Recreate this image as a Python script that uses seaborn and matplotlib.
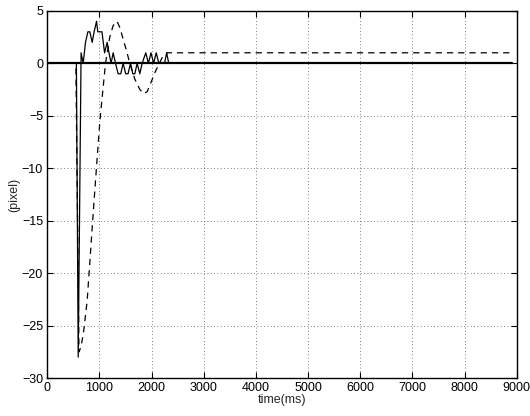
import numpy as np
import pandas as pd
import seaborn as sns
import matplotlib
matplotlib.use("Agg")
import matplotlib.pyplot as plt

# measured error (solid)
solid_t = [0, 560, 595, 650, 690, 735, 780, 818, 863, 900, 946, 970, 1050, 1100, 1150,
           1185, 1225, 1265, 1310, 1360, 1410, 1456, 1505, 1550, 1597, 1640, 1680, 1724,
           1776, 1820, 1890, 1940, 1990, 2040, 2090, 2140, 2250, 2290, 2330, 8900]
solid_y = [0, 0, -28, 1, 0, 2, 3, 3, 2, 3, 4, 3, 3, 1, 2,
           1, 0, 1, 0, -1, -1, 0, -1, -1, 0, -1, -1, 0,
           -1, 0, 1, 0, 1, 0, 1, 0, 0, 1, 0, 0]

# predicted (dashed)
dash_t = [0, 550, 610, 650, 700, 767, 900, 1010, 1118, 1200, 1265, 1340, 1393, 1456,
          1520, 1584, 1680, 1776, 1852, 1916, 2000, 2063, 2200, 2300, 8880]
dash_y = [0, 0, -27.5, -27, -25.5, -22.6, -13, -5.5, 0, 2.5, 3.6, 4, 3.4, 2.3,
          1.2, 0, -1.5, -2.5, -2.9, -2.7, -1.7, -0.9, 0.5, 1, 1]

# zero reference
ref_t = [0, 8900]
ref_y = [0, 0]

sns.set_style("ticks")
plt.rcParams['font.family'] = ['Liberation Sans', 'DejaVu Sans']
plt.rcParams['axes.unicode_minus'] = True

fig = plt.figure(figsize=(5.3, 4.16), dpi=100)
ax = fig.add_axes([0.089, 0.091, 0.886, 0.883])

sns.lineplot(x=ref_t, y=ref_y, ax=ax, color="black", linewidth=1.6, estimator=None, sort=False)
sns.lineplot(x=solid_t, y=solid_y, ax=ax, color="black", linewidth=0.9, estimator=None, sort=False)
sns.lineplot(x=dash_t, y=dash_y, ax=ax, color="black", linewidth=0.9, estimator=None, sort=False,
             linestyle=(0, (5, 4)))

ax.set_xlim(0, 9000)
ax.set_ylim(-30, 5)
ax.set_xticks(np.arange(0, 9001, 1000))
ax.set_yticks(np.arange(-30, 6, 5))
ax.grid(True, linestyle=(0, (1, 3)), color="#555555", linewidth=0.6)
ax.tick_params(direction="in", top=True, right=True, length=4, width=0.8,
               labelsize=9, colors="black", pad=3)
for s in ax.spines.values():
    s.set_visible(True)
    s.set_linewidth(1.0)
    s.set_color("black")
ax.set_xlabel("time(ms)", fontsize=9, labelpad=0)
ax.set_ylabel("(pixel)", fontsize=9, labelpad=1)

fig.savefig("out.png", dpi=100)
